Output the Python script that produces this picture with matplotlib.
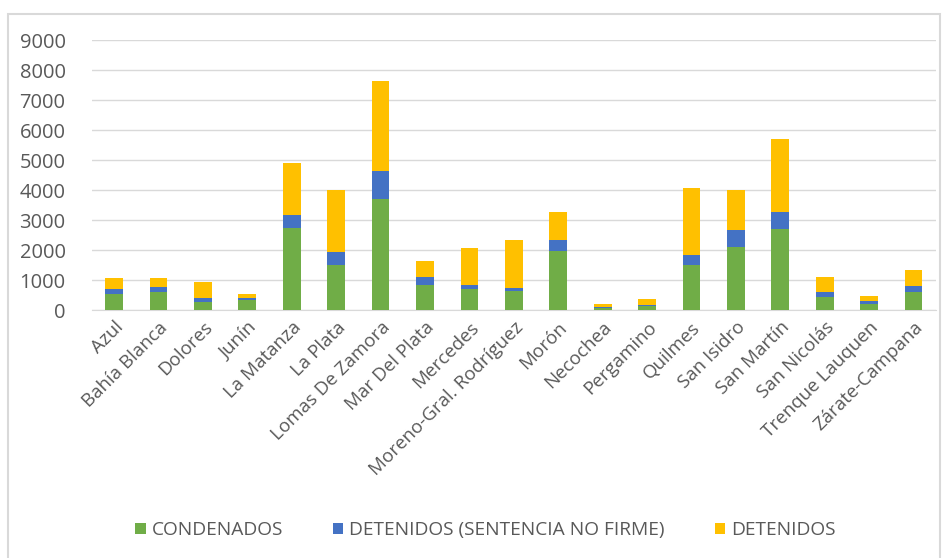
import numpy as np
import matplotlib.pyplot as plt
from matplotlib.patches import Rectangle

plt.rcParams['font.family'] = ['Open Sans', 'DejaVu Sans']

# data
departamentos = ['Azul', 'Bahía Blanca', 'Dolores', 'Junín', 'La Matanza', 'La Plata',
                 'Lomas De Zamora', 'Mar Del Plata', 'Mercedes', 'Moreno-Gral. Rodríguez',
                 'Morón', 'Necochea', 'Pergamino', 'Quilmes', 'San Isidro', 'San Martín',
                 'San Nicolás', 'Trenque Lauquen', 'Zárate-Campana']
condenados = [520, 600, 280, 320, 2745, 1500, 3690, 835, 710, 635,
              1980, 65, 135, 1500, 2110, 2700, 435, 210, 600]
sin_firme = [170, 155, 130, 90, 420, 420, 935, 265, 125, 100,
             345, 45, 30, 345, 555, 555, 165, 80, 190]
detenidos = [365, 300, 535, 110, 1720, 2070, 3010, 520, 1245, 1590,
             930, 100, 200, 2235, 1320, 2435, 500, 180, 555]

series_names = ['CONDENADOS', 'DETENIDOS (SENTENCIA NO FIRME)', 'DETENIDOS']
colores = ['#70ad47', '#4472c4', '#ffc000']

fig = plt.figure(figsize=(9.48, 5.58), dpi=100)
ax = fig.add_axes([0.097, 0.4444, 0.89, 0.4839])

x = np.arange(len(departamentos))
c = np.array(condenados)
s = np.array(sin_firme)
d = np.array(detenidos)
w = 0.4
ax.bar(x, c, w, color=colores[0], label=series_names[0], zorder=3)
ax.bar(x, s, w, bottom=c, color=colores[1], label=series_names[1], zorder=3)
ax.bar(x, d, w, bottom=c + s, color=colores[2], label=series_names[2], zorder=3)

ax.set_xlim(-0.5, len(departamentos) - 0.5)
ax.set_ylim(0, 9000)
ax.set_yticks(range(0, 9001, 1000))
ax.yaxis.grid(True, color='#d9d9d9', linewidth=1, zorder=0)
for side in ['top', 'right', 'left']:
    ax.spines[side].set_visible(False)
ax.spines['bottom'].set_color('#d9d9d9')
ax.tick_params(axis='both', length=0, colors='#595959', labelsize=13.5)
ax.tick_params(axis='y', pad=19, labelsize=14.5)
ax.set_xticks(x)
ax.set_xticklabels(departamentos, rotation=45, ha='right', rotation_mode='anchor')
ax.tick_params(axis='x', pad=6)

fig.legend(loc='center', bbox_to_anchor=(0.512, 0.05), ncol=3, frameon=False,
           handlelength=0.55, handleheight=0.55, handletextpad=0.3, columnspacing=2.6,
           fontsize=13.8, labelcolor='#595959')

# chart frame
fig.patches.append(Rectangle((8 / 948, -5 / 558), 932 / 948, 549 / 558, transform=fig.transFigure,
                             fill=False, edgecolor='#d9d9d9', linewidth=1.5))

fig.savefig('out.png', dpi=100)
